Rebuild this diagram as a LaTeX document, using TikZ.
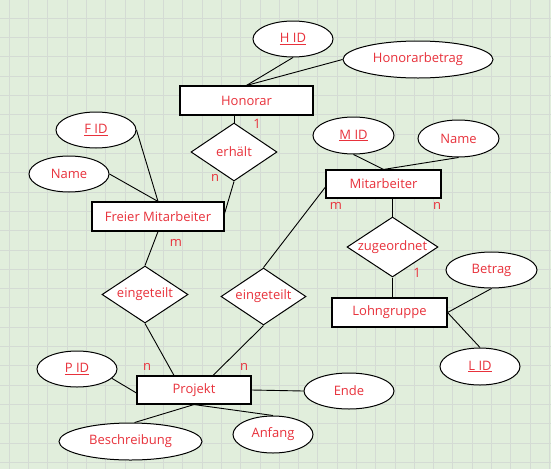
\documentclass[tikz,border=0pt]{standalone}
\usepackage{fontspec}
\setmainfont{Open Sans}
\usepackage{tikz}
\usetikzlibrary{shapes.geometric}
\usepackage{xcolor}

\definecolor{bggreen}{HTML}{E1EEDC}
\definecolor{gridgray}{HTML}{D4DBD4}
\definecolor{txtred}{HTML}{E8313B}

\begin{document}
\begin{tikzpicture}[
    x=1pt, y=-1pt,
    entity/.style={rectangle, draw, fill=white, line width=1.1pt, inner sep=0pt,
      text=txtred, font=\fontsize{13}{15}\selectfont},
    attrib/.style={ellipse, draw, fill=white, line width=1pt, inner sep=0pt,
      text=txtred, font=\fontsize{13}{15}\selectfont},
    rel/.style={diamond, draw, fill=white, line width=1pt, inner sep=0pt, aspect=1.5,
      text=txtred, font=\fontsize{13}{15}\selectfont},
    card/.style={text=txtred, inner sep=0pt, font=\fontsize{13}{15}\selectfont},
    link/.style={line width=0.9pt}]

  % Background with grid
  \useasboundingbox (0,0) rectangle (551,469);
  \fill[bggreen] (0,0) rectangle (551,469);
  \foreach \i in {0,...,28} {
    \draw[gridgray, line width=1pt] ({9.3+\i*19.29},0) -- ({9.3+\i*19.29},469);
  }
  \foreach \j in {0,...,23} {
    \draw[gridgray, line width=1pt] (0,{18.3+\j*19.31}) -- (551,{18.3+\j*19.31});
  }

  % Entities
  \node[entity, minimum width=133pt, minimum height=29pt] (Hon) at (246.5,100.5) {Honorar};
  \node[entity, minimum width=132pt, minimum height=29pt] (FM) at (158,216.5) {Freier Mitarbeiter};
  \node[entity, minimum width=115pt, minimum height=28pt] (Mit) at (383.5,184) {Mitarbeiter};
  \node[entity, minimum width=114pt, minimum height=28pt] (Proj) at (194,390) {Projekt};
  \node[entity, minimum width=115pt, minimum height=29pt] (Lohn) at (389.5,312.5) {Lohngruppe};

  % Relationships
  \node[rel, minimum width=86pt, minimum height=58pt] (erh) at (234,152) {erhält};
  \node[rel, minimum width=86pt, minimum height=57pt] (ein1) at (145,294.5) {eingeteilt};
  \node[rel, minimum width=85pt, minimum height=57pt] (ein2) at (263.5,296.5) {eingeteilt};
  \node[rel, minimum width=91pt, minimum height=60pt] (zug) at (392.5,247) {zugeordnet};

  % Attributes
  \node[attrib, minimum width=80pt, minimum height=36pt] (hid) at (293,39) {\underline{H ID}};
  \node[attrib, minimum width=150pt, minimum height=37pt] (hbet) at (418,59.5) {Honorarbetrag};
  \node[attrib, minimum width=80pt, minimum height=36pt] (fid) at (96,130) {\underline{F ID}};
  \node[attrib, minimum width=80pt, minimum height=36pt] (fname) at (69,174) {Name};
  \node[attrib, minimum width=81pt, minimum height=37pt] (mid) at (353.5,135.5) {\underline{M ID}};
  \node[attrib, minimum width=81pt, minimum height=37pt] (mname) at (458.5,138.5) {Name};
  \node[attrib, minimum width=80pt, minimum height=36pt] (pid) at (77,369) {\underline{P ID}};
  \node[attrib, minimum width=143pt, minimum height=37pt] (besch) at (130.5,441.5) {Beschreibung};
  \node[attrib, minimum width=80pt, minimum height=37pt] (anf) at (273,434.5) {Anfang};
  \node[attrib, minimum width=90pt, minimum height=36pt] (ende) at (349,391) {Ende};
  \node[attrib, minimum width=91pt, minimum height=36pt] (betr) at (491.5,270) {Betrag};
  \node[attrib, minimum width=80pt, minimum height=37pt] (lid) at (480,366.5) {\underline{L ID}};

  % Cardinalities
  \node[card] (c1) at (257,124) {1};
  \node[card] (c2) at (215,178) {n};
  \node[card] (c3) at (336,206) {m};
  \node[card] (c4) at (437,206) {n};
  \node[card] (c5) at (176,243) {m};
  \node[card] (c6) at (417,273) {1};
  \node[card] (c7) at (147,367) {n};
  \node[card] (c8) at (244,367) {n};

  % Connections
  \draw[link] (hid.south) -- (Hon.north);
  \draw[link] (hbet.west) -- (Hon.north);
  \draw[link] (erh.north) -- (erh.north |- Hon.south);
  \draw[link] (erh.south) -- ([yshift=3pt]FM.east);
  \draw[link] (fid.east) -- (FM.north);
  \draw[link] (fname.east) -- (FM.north);
  \draw[link] (mid.south) -- (Mit.north);
  \draw[link] (mname.south) -- (Mit.north);
  \draw[link] ([yshift=-3pt]Mit.west) -- (ein2.north);
  \draw[link] (zug.north) -- (zug.north |- Mit.south);
  \draw[link] (zug.south) -- (zug.south |- Lohn.north);
  \draw[link] (FM.south) -- (ein1.north);
  \draw[link] (ein1.south) -- ([xshift=-20pt]Proj.north);
  \draw[link] (ein2.south) -- ([xshift=19pt]Proj.north);
  \draw[link] (pid.-15) -- ([yshift=-3pt]Proj.west);
  \draw[link] (besch.78) -- (Proj.south);
  \draw[link] (Proj.south) -- (anf.north);
  \draw[link] (Proj.east) -- (ende.west);
  \draw[link] (Lohn.east) -- (betr.south);
  \draw[link] (Lohn.east) -- (lid.north);

\end{tikzpicture}
\end{document}
